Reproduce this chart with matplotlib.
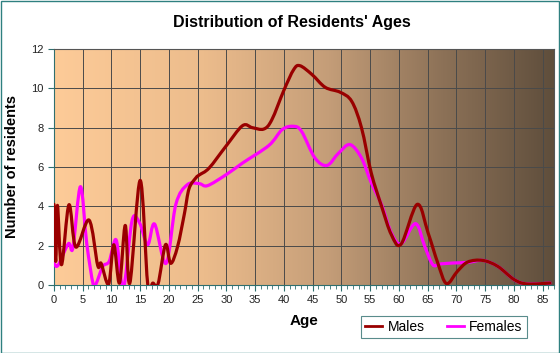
import numpy as np
import matplotlib
matplotlib.use("Agg")
import matplotlib.pyplot as plt
from matplotlib.path import Path
from matplotlib.patches import PathPatch, Rectangle
from matplotlib.colors import LinearSegmentedColormap
from matplotlib.lines import Line2D

plt.rcParams['font.family'] = ['Liberation Sans', 'DejaVu Sans']

# Données
male_age = [0, 0.3, 0.6, 1.3, 2.6, 3.8, 6.1, 7.6, 8.2, 9.5, 10.4, 11.4, 12.4, 13.2,
            15.0, 16.3, 17.2, 18.1, 19.4, 20.3, 21.5, 22.7, 23.5, 24.7, 25.3, 27.0,
            29.9, 32.8, 34.5, 36.5, 37.9, 40.0, 41.7, 42.8, 44.9, 47.2, 49.8, 51.8,
            53.5, 55.2, 57.0, 58.7, 60.4, 63.2, 65.1, 66.8, 68.3, 70.2, 72.0, 74.6,
            77.2, 80.1, 82.4, 86.3]
males = [4.1, 1.2, 4.05, 1.03, 4.08, 1.93, 3.3, 1.0, 1.1, 0.05, 2.05, 0.1, 3.03, 0.1,
         5.32, 0.07, 0.1, 0.05, 2.05, 1.1, 1.95, 3.64, 4.9, 5.45, 5.6, 5.95,
         7.05, 8.1, 8.0, 7.93, 8.4, 9.9, 10.95, 11.15, 10.7, 10.05, 9.8, 9.34,
         8.0, 5.7, 4.0, 2.56, 2.08, 4.1, 2.64, 1.1, 0.07, 0.7, 1.17, 1.25,
         0.95, 0.27, 0.05, 0.1]

female_age = [0, 0.7, 2.5, 3.3, 4.6, 5.7, 6.8, 7.3, 8.5, 9.6, 10.8, 11.7, 12.3, 13.6,
              14.9, 16.3, 17.5, 19.5, 21.2, 23.2, 25.3, 26.7, 29.9, 32.8, 37.4, 39.7,
              41.7, 43.1, 45.4, 47.5, 49.5, 51.5, 53.5, 55.2, 57.0, 58.7, 60.4, 62.9,
              64.5, 65.9, 67.1, 69.5, 72.0, 74.6, 77.2, 80.1, 82.4, 86.3]
females = [1.1, 1.0, 2.1, 1.9, 5.0, 2.1, 0.05, 0.05, 0.95, 1.2, 2.3, 0.2, 0.1, 3.3,
           3.15, 2.05, 3.1, 1.1, 4.1, 5.1, 5.15, 5.05, 5.6, 6.2, 7.1, 7.9,
           8.07, 7.8, 6.46, 6.08, 6.7, 7.14, 6.46, 5.2, 4.08, 2.64, 2.1, 3.12,
           1.97, 1.03, 1.07, 1.12, 1.15, 1.25, 0.95, 0.27, 0.05, 0.1]

x_ticks = list(range(0, 90, 5))
y_ticks = list(range(0, 14, 2))


# Courbe lissée (Catmull-Rom -> Bézier) passant par les points
def courbe_lisse(x, y):
    pts = np.column_stack([x, y])
    verts = [pts[0]]
    codes = [Path.MOVETO]
    n = len(pts)
    for i in range(n - 1):
        p0 = pts[max(i - 1, 0)]
        p1 = pts[i]
        p2 = pts[i + 1]
        p3 = pts[min(i + 2, n - 1)]
        c1 = p1 + (p2 - p0) / 6.0
        c2 = p2 - (p3 - p1) / 6.0
        verts += [c1, c2, p2]
        codes += [Path.CURVE4] * 3
    return Path(verts, codes)


fig = plt.figure(figsize=(5.6, 3.53), dpi=100, facecolor='white')
ax = fig.add_axes([54 / 560, 68 / 353, 500 / 560, 236 / 353])

# Fond en dégradé
fond = LinearSegmentedColormap.from_list('fond', [
    (0.0, (253 / 255, 203 / 255, 152 / 255)),
    (0.3, (236 / 255, 188 / 255, 140 / 255)),
    (0.55, (196 / 255, 157 / 255, 120 / 255)),
    (0.78, (140 / 255, 113 / 255, 87 / 255)),
    (1.0, (95 / 255, 78 / 255, 60 / 255))])
ax.imshow(np.linspace(0, 1, 256).reshape(1, -1), cmap=fond, aspect='auto',
          extent=[0, 87, 0, 12], zorder=0)

ax.set_xlim(0, 87)
ax.set_ylim(0, 12)
ax.set_xticks(x_ticks)
ax.set_xticks(range(0, 88), minor=True)
ax.set_yticks(y_ticks)
ax.grid(True, color='#4a4a4a', linewidth=0.7, zorder=1)

ax.add_patch(PathPatch(courbe_lisse(female_age, females), fill=False,
                       edgecolor='#ff00ff', linewidth=2.3, zorder=3,
                       capstyle='round', joinstyle='round'))
ax.add_patch(PathPatch(courbe_lisse(male_age, males), fill=False,
                       edgecolor='#990000', linewidth=2.3, zorder=4,
                       capstyle='round', joinstyle='round'))

for s in ['top', 'right']:
    ax.spines[s].set_color('#555555')
for s in ['left', 'bottom']:
    ax.spines[s].set_color('#2f6f6f')
ax.tick_params(axis='both', which='both', colors='#2f6f6f', labelcolor='#222222',
               labelsize=8, direction='out')
ax.tick_params(axis='x', which='major', length=4)
ax.tick_params(axis='x', which='minor', length=3)
ax.tick_params(axis='y', length=4)

ax.set_xlabel('Age', fontsize=11, fontweight='bold', labelpad=6)
ax.set_ylabel('Number of residents', fontsize=10.5, fontweight='bold', labelpad=9)

fig.text(292 / 560, 1 - 23 / 353, "Distribution of Residents' Ages", ha='center',
         va='center', fontsize=11.5, fontweight='bold')

poignees = [Line2D([], [], color='#990000', linewidth=2),
            Line2D([], [], color='#ff00ff', linewidth=2)]
leg = fig.legend(poignees, ['Males', 'Females'], loc='center',
                 bbox_to_anchor=(444 / 560, 1 - 327 / 353), ncol=2, fontsize=10,
                 frameon=True, fancybox=False, handlelength=1.2, handletextpad=0.4,
                 columnspacing=1.6, borderpad=0.3)
leg.get_frame().set_edgecolor('#2f6f6f')
leg.get_frame().set_linewidth(0.8)

fig.patches.append(Rectangle((0.001, 0.001), 0.997, 0.996, transform=fig.transFigure,
                             fill=False, edgecolor='#2f8080', linewidth=1))

fig.savefig('out.png', dpi=100)
